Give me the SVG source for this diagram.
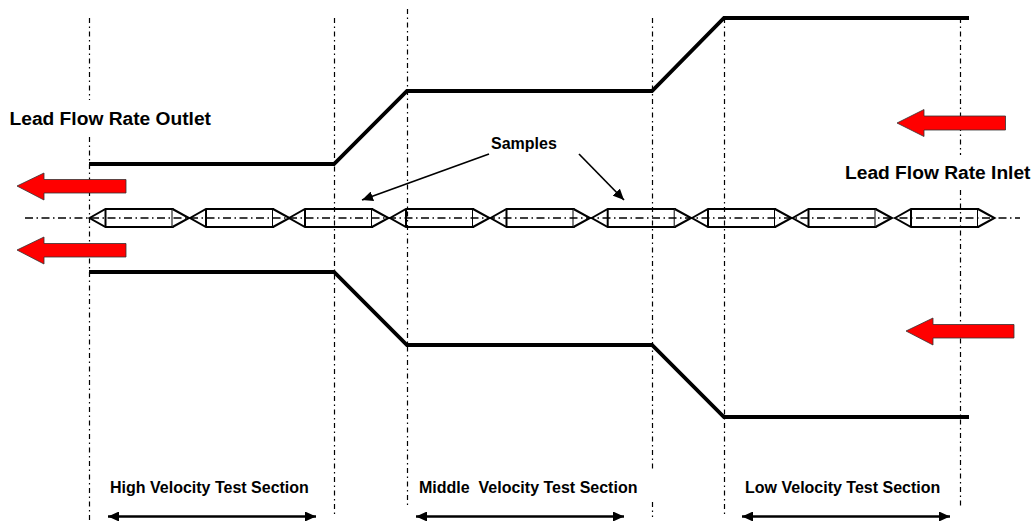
<svg xmlns="http://www.w3.org/2000/svg" width="1033" height="521" viewBox="0 0 1033 521">
<style>
.dd{stroke:#000;stroke-width:1.200;stroke-dasharray:5 3.500 1.500 3.500;fill:none}
.c{stroke-width:1.500;stroke-dasharray:8 3.500 1.500 3.500}
.wall{stroke:#000;stroke-width:3.800;fill:none}
.red{fill:#f00;stroke:#333;stroke-width:.8}
.s{fill:#fff;stroke:#000;stroke-width:2}
.t{font-family:"Liberation Sans",Arial,sans-serif;font-weight:bold;fill:#000}
.ar{stroke:#000;fill:none}
</style>
<defs>
<marker id="ah" markerUnits="userSpaceOnUse" markerWidth="12" markerHeight="10" refX="11" refY="5" orient="auto-start-reverse"><path d="M0 0L11 5L0 10Z" fill="#000"/></marker>
<g id="sm"><path class="s" d="M0 9L16 0H83V18H16Z"/><path class="s" d="M83 0L99.500 9L83 18"/><path class="s" d="M16 0V18"/></g>
</defs>
<g id="samples">
<use href="#sm" x="89.500" y="209"/><use href="#sm" x="190" y="209"/><use href="#sm" x="289" y="209"/>
<use href="#sm" x="390" y="209"/><use href="#sm" x="490.500" y="209"/><use href="#sm" x="591.700" y="209"/>
<use href="#sm" x="692" y="209"/><use href="#sm" x="792.500" y="209"/><use href="#sm" x="895" y="209"/>
</g>
<g id="connectors">
<path class="dd c" d="M25 218H1020"/>
<path class="dd" d="M89.500 18V100M89.500 137V521"/><path class="dd" d="M334.500 18V517"/><path class="dd" d="M407.500 9V507"/>
<path class="dd" d="M652.500 18V472M652.500 502V517"/><path class="dd" d="M724.500 18V517"/><path class="dd" d="M960.500 18V155M960.500 190V507"/>
<path class="wall" d="M89 164H334L407 91H652L724 18H969"/>
<path class="wall" d="M89 272H334L407 345H652L724 417H969"/>
<path class="ar" stroke-width="1.700" d="M489 154L362 200" marker-end="url(#ah)"/>
<path class="ar" stroke-width="1.700" d="M579 154L624 200" marker-end="url(#ah)"/>
<path class="ar" stroke-width="2.700" d="M108 516.500H316" marker-start="url(#ah)" marker-end="url(#ah)"/>
<path class="ar" stroke-width="2.700" d="M416 516.500H624" marker-start="url(#ah)" marker-end="url(#ah)"/>
<path class="ar" stroke-width="2.700" d="M742 516.500H950" marker-start="url(#ah)" marker-end="url(#ah)"/>
</g>
<g id="arrows">
<path class="red" d="M17 186L44 173V179.500H126V193H44V200Z"/>
<path class="red" d="M17 250L44 237V243.500H126V257H44V264Z"/>
<path class="red" d="M897 123L924 109.500V116H1005.500V130H924V136.500Z"/>
<path class="red" d="M906 331L933 318V324.500H1014V338H933V345Z"/>
</g>
<g id="labels">
<text class="t" x="9.500" y="125" font-size="19.200">Lead Flow Rate Outlet</text>
<text class="t" x="845" y="179" font-size="19.200">Lead Flow Rate Inlet</text>
<text class="t" x="491" y="149" font-size="16">Samples</text>
<text class="t" x="110" y="492.500" font-size="16">High Velocity Test Section</text>
<text class="t" x="419" y="492.500" font-size="16" xml:space="preserve">Middle  Velocity Test Section</text>
<text class="t" x="745" y="492.500" font-size="16">Low Velocity Test Section</text>
</g>
</svg>
